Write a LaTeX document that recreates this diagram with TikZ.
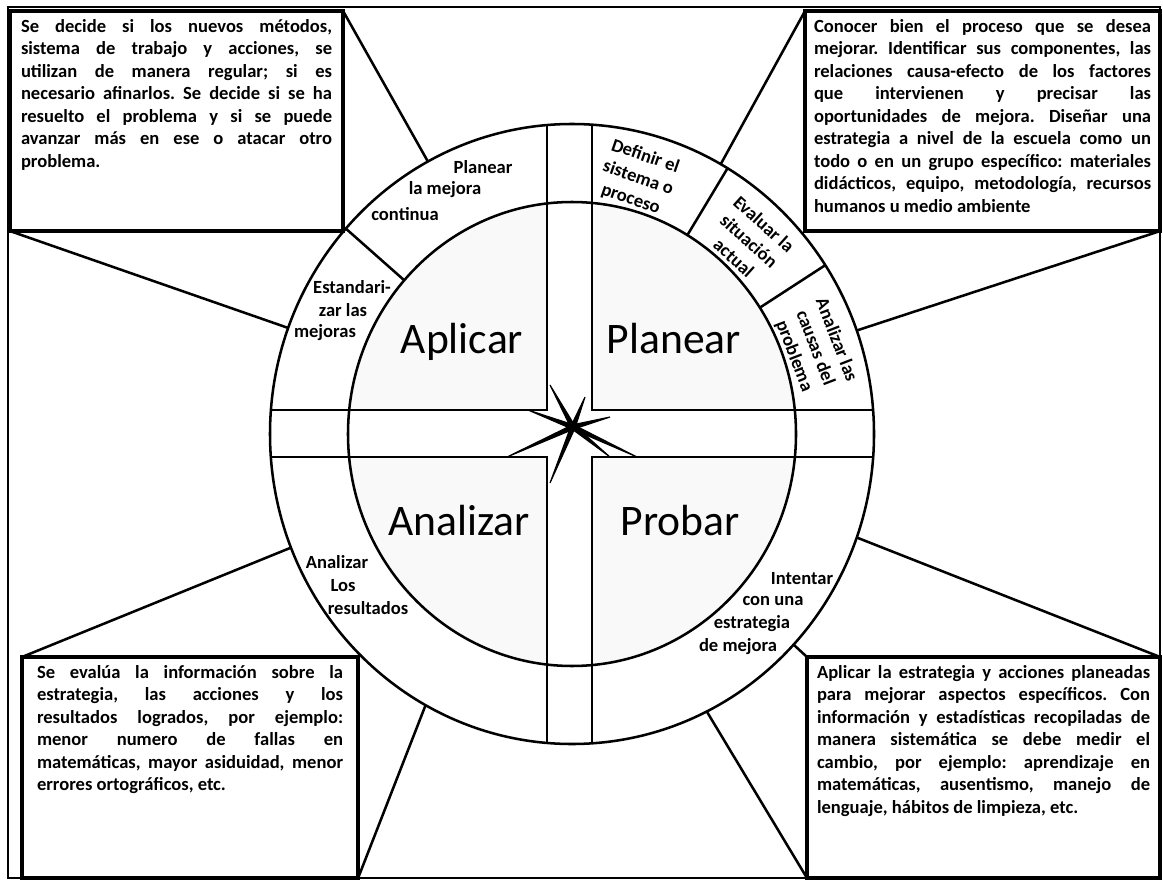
\documentclass[tikz,border=0pt]{standalone}
\usepackage{fontspec}
\setmainfont{Carlito}
\usetikzlibrary{positioning}
\usetikzlibrary{calc}
\frenchspacing

\begin{document}
\begin{tikzpicture}[x=0.025cm,y=-0.025cm,every node/.style={outer sep=0pt},line width=1.8pt,
 note/.style={draw,line width=2.4pt,anchor=north west,inner ysep=0.2cm,
  font=\bfseries\fontsize{13.2}{16}\selectfont},
 sub/.style={font=\bfseries\fontsize{13.2}{16}\selectfont,inner sep=0pt,align=center},
 phase/.style={font=\fontsize{31}{36}\selectfont,anchor=base,inner sep=0pt},
 spike/.style={line width=0.8pt,line join=miter,fill=black}]

  \useasboundingbox (0,0) rectangle (1163,880);
  \coordinate (o) at (572,434);
  \coordinate (c) at (573,427);

  % quadrants
  \begin{scope}
   \clip (o) ellipse [x radius=224, y radius=232];
   \fill[black!2.5] (0,0) rectangle (547,410) (592,0) rectangle (1163,410)
    (0,457) rectangle (547,880) (592,457) rectangle (1163,880);
  \end{scope}

  \draw (o) ellipse [x radius=302, y radius=310];
  \draw (o) ellipse [x radius=224, y radius=232];

  \begin{scope}
   \clip (o) ellipse [x radius=302, y radius=310];
   \draw (0,410) -- (547,410) -- (547,0);
   \draw (1163,410) -- (592,410) -- (592,0);
   \draw (0,457) -- (547,457) -- (547,880);
   \draw (1163,457) -- (592,457) -- (592,880);
  \end{scope}

  \foreach \a in {-138.5,-59,-33}
   \draw ($(o)+(\a:224 and 232)$) -- ($(o)+(\a:302 and 310)$);

  \foreach \tx/\ty in {-23/-42,12/-30,37/-10,-45/-17,-66/30,-23/56,64/30,37/30}
  {\coordinate (tip) at ($(c)+(\tx,\ty)$);
   \draw[spike] ($(c)!1.6pt!90:(tip)$) -- (tip) -- ($(c)!1.6pt!-90:(tip)$) -- cycle;
  }

  \draw[line width=1pt] (8,7) rectangle (1160,878);

  \node[note,inner xsep=0.275cm] (b1) at (10,11) {\parbox[t][5.1cm][t]{7.775cm}{\hyphenpenalty=10000
   Se decide si los nuevos métodos,\linebreak sistema de trabajo y acciones, se\linebreak
   utilizan de manera regular; si es\linebreak necesario afinarlos. Se decide si se ha\linebreak
   resuelto el problema y si se puede\linebreak avanzar más en ese o atacar otro\linebreak problema.}};
  \node[note,inner xsep=0.225cm] (b2) at (805,11) {\parbox[t][5.1cm][t]{8.425cm}{\hyphenpenalty=10000
   Conocer bien el proceso que se desea\linebreak mejorar. Identificar sus componentes, las\linebreak
   relaciones causa-efecto de los factores\linebreak que intervienen y precisar las\linebreak
   oportunidades de mejora. Diseñar una\linebreak estrategia a nivel de la escuela como un\linebreak
   todo o en un grupo específico: materiales\linebreak didácticos, equipo, metodología, recursos\linebreak
   humanos u medio ambiente}};
  \node[note,inner xsep=0.375cm] (b3) at (22,657) {\parbox[t][5.125cm][t]{7.65cm}{\hyphenpenalty=10000
   Se evalúa la información sobre la\linebreak estrategia, las acciones y los\linebreak
   resultados logrados, por ejemplo:\linebreak menor numero de fallas en\linebreak
   matemáticas, mayor asiduidad, menor\linebreak errores ortográficos, etc.}};
  \node[note,inner xsep=0.25cm] (b4) at (807,657) {\parbox[t][5.125cm][t]{8.325cm}{\hyphenpenalty=10000
   Aplicar la estrategia y acciones planeadas\linebreak para mejorar aspectos específicos. Con\linebreak
   información y estadísticas recopiladas de\linebreak manera sistemática se debe medir el\linebreak
   cambio, por ejemplo: aprendizaje en\linebreak matemáticas, ausentismo, manejo de\linebreak
   lenguaje, hábitos de limpieza, etc.}};

  % spokes
  \foreach \a [count=\i] in {-160,-118.5,-60.5,-19.5,19.5,63.5,119,158.5,42.8}
   \coordinate (s\i) at ($(o)+(\a:302 and 310)$);
  \draw (b1.south west) -- (s1);
  \draw (b1.north east) -- (s2);
  \draw (b2.north west) -- (s3);
  \draw (b2.south east) -- (s4);
  \draw (b4.north east) -- (s5);
  \draw (b4.south west) -- (s6);
  \draw (b3.south east) -- (s7);
  \draw (b3.north west) -- (s8);
  \draw (b4.north west) -- (s9);

  \node[phase] (ap) at (462,353) {Aplicar};
  \node[phase] (pl) at (674,353) {Planear};
  \node[phase] (an) at (459,535) {Analizar};
  \node[phase] (pr) at (680,535) {Probar};

  \foreach \t/\x/\y [count=\i] in {Planear/483/167,la mejora/445/190,continua/405/214,
   Estandari-/352/287,zar las/343/310,mejoras/325/333,
   Analizar/337/562,Los/343/586,resultados/368/608,
   Intentar/802/579,con una/773/601,estrategia/752/624,de mejora/738/647}
   \node[sub] (r\i) at (\x,\y) {\t};

  \node[sub,rotate=-19] (def) at (638,178) {Definir el\\sistema o\\proceso};
  \node[sub,rotate=-42] (eva) at (749,241) {Evaluar la\\situación\\actual};
  \node[sub,rotate=-69] (cau) at (815,348) {Analizar las\\causas del\\problema};

\end{tikzpicture}
\end{document}
